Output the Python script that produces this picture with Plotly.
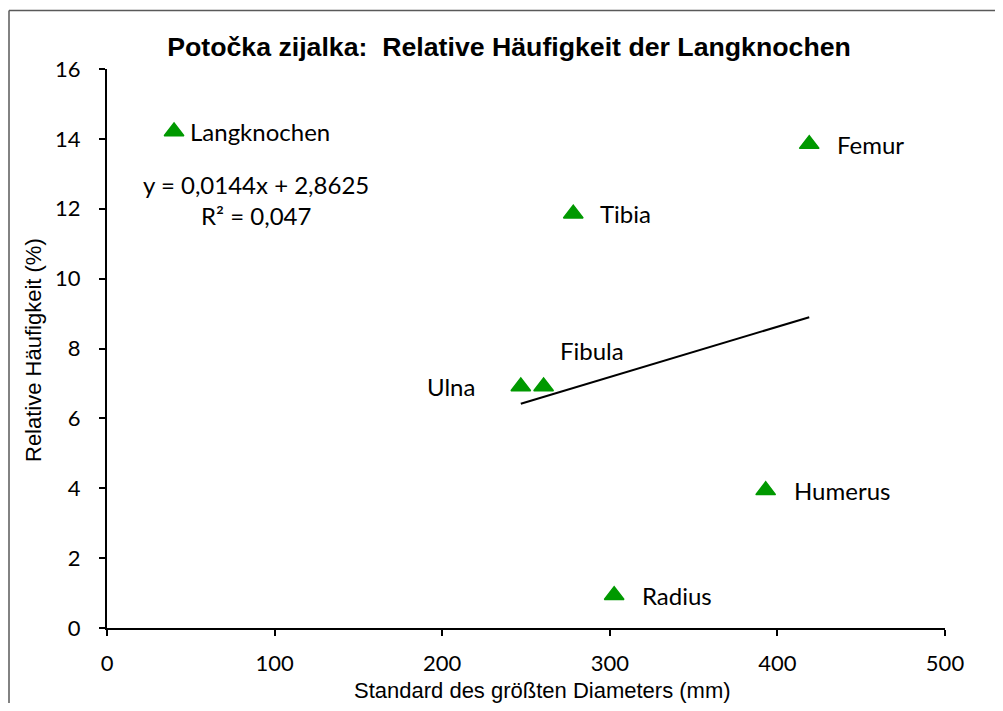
import plotly.graph_objects as go

# ---- data ----
bones = ["Femur", "Tibia", "Ulna", "Fibula", "Humerus", "Radius"]
diameter_std = [419.0, 278.2, 246.9, 260.5, 393.0, 302.6]
rel_freq = [13.85, 11.86, 6.91, 6.91, 3.94, 0.94]

legend_label = "Langknochen"
legend_x = [40.0]
legend_y = [14.21]

trend_slope = 0.0144
trend_intercept = 2.8625
trend_r2_text = "R² = 0,047"
trend_eq_text = "y = 0,0144x + 2,8625"

x_title = "Standard des größten Diameters (mm)"
y_title = "Relative Häufigkeit (%)"
chart_title = "Potočka zijalka: \u00a0Relative Häufigkeit der Langknochen"

x_ticks = [0, 100, 200, 300, 400, 500]
y_ticks = [0, 2, 4, 6, 8, 10, 12, 14, 16]

GREEN = "#009900"
TICK_FONT = dict(family="Lato, 'Open Sans', sans-serif", size=22, color="#000000")
LABEL_FONT = dict(family="Lato, 'Open Sans', sans-serif", size=24, color="#000000")
ARIAL = "'Liberation Sans', Arial, sans-serif"

# page has an 8px body margin: figure sits at (8,8)
W, H = 987, 695
PL, PR, PT, PB = 99, 937, 61, 620  # plot area in figure pixels


def px_x(p):
    return (p - 8 - PL) / (PR - PL)


def px_y(p):
    return (PB - (p - 8)) / (PB - PT)


fig = go.Figure()

tx = [min(diameter_std), max(diameter_std)]
ty = [trend_slope * v + trend_intercept for v in tx]
fig.add_trace(go.Scatter(x=tx, y=ty, mode="lines",
                         line=dict(color="#000000", width=2),
                         hoverinfo="skip", showlegend=False))

fig.add_trace(go.Scatter(x=diameter_std, y=rel_freq, mode="markers",
                         marker=dict(symbol="triangle-up", size=17, color=GREEN,
                                     line=dict(color=GREEN, width=1.5)),
                         text=bones, showlegend=False))

fig.add_trace(go.Scatter(x=legend_x, y=legend_y, mode="markers",
                         marker=dict(symbol="triangle-up", size=17, color=GREEN,
                                     line=dict(color=GREEN, width=1.5)),
                         showlegend=False))

label_offsets = {
    "Femur": (26, 0, "left"),
    "Tibia": (25, 0, "left"),
    "Ulna": (-44, 0, "right"),
    "Fibula": (14, 36, "left"),
    "Humerus": (26, 0, "left"),
    "Radius": (26, 0, "left"),
}
for name, xv, yv in zip(bones, diameter_std, rel_freq):
    dx, dy, anchor = label_offsets[name]
    fig.add_annotation(x=xv, y=yv, text=name, showarrow=False,
                       xanchor=anchor, yanchor="middle",
                       xshift=dx, yshift=dy, font=LABEL_FONT)

fig.add_annotation(x=legend_x[0], y=legend_y[0], text=legend_label, showarrow=False,
                   xanchor="left", yanchor="middle", xshift=14, yshift=0,
                   font=LABEL_FONT)

fig.add_annotation(xref="paper", yref="paper", x=px_x(256), y=px_y(184),
                   text=trend_eq_text, showarrow=False, xanchor="center",
                   yanchor="middle", font=LABEL_FONT)
fig.add_annotation(xref="paper", yref="paper", x=px_x(256), y=px_y(216),
                   text=trend_r2_text, showarrow=False, xanchor="center",
                   yanchor="middle", font=LABEL_FONT)

# axis titles
fig.add_annotation(xref="paper", yref="paper", x=px_x(542), y=px_y(690),
                   text=x_title, showarrow=False, xanchor="center", yanchor="middle",
                   font=dict(family=ARIAL, size=22, color="#000000"))
fig.add_annotation(xref="paper", yref="paper", x=px_x(33), y=px_y(350),
                   text=y_title, showarrow=False, xanchor="center", yanchor="middle",
                   textangle=-90,
                   font=dict(family=ARIAL, size=22, color="#000000"))

# chart border: only left and top edges are inside the view
BORDER = dict(color="#595959", width=1.5)
fig.add_shape(type="line", xref="paper", yref="paper",
              x0=px_x(9), x1=px_x(9), y0=px_y(720), y1=px_y(10.5), line=BORDER)
fig.add_shape(type="line", xref="paper", yref="paper",
              x0=px_x(9), x1=px_x(1010), y0=px_y(10.5), y1=px_y(10.5), line=BORDER)

fig.update_layout(
    width=W, height=H,
    margin=dict(l=PL, r=W - PR, t=PT, b=H - PB, autoexpand=False),
    paper_bgcolor="#ffffff", plot_bgcolor="#ffffff",
    title=dict(text=chart_title,
               x=(509 - 8) / W, xref="container", xanchor="center",
               y=1 - (47 - 8) / H, yref="container", yanchor="middle",
               font=dict(family=ARIAL, size=26.7, color="#000000", weight="bold")),
    showlegend=False,
    xaxis=dict(range=[0, 500], tickvals=x_ticks, ticktext=[str(v) for v in x_ticks],
               showgrid=False, zeroline=False, showline=True, linecolor="#000000",
               linewidth=2, ticks="outside", ticklen=6, tickwidth=2, tickcolor="#000000",
               tickfont=TICK_FONT, ticklabelstandoff=9, automargin=False),
    yaxis=dict(range=[0, 16], tickvals=y_ticks, ticktext=[str(v) for v in y_ticks],
               showgrid=False, zeroline=False, showline=True, linecolor="#000000",
               linewidth=2, ticks="outside", ticklen=6, tickwidth=2, tickcolor="#000000",
               tickfont=TICK_FONT, ticklabelstandoff=14, automargin=False),
)

fig.write_html("out.html")
